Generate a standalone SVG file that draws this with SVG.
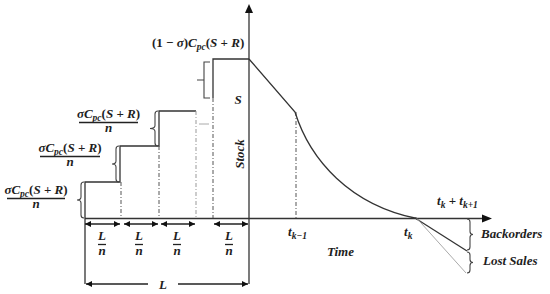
<svg xmlns="http://www.w3.org/2000/svg" width="550" height="294" viewBox="0 0 550 294">
<defs>
<style>
.t{font-family:"Liberation Serif","DejaVu Serif",serif;font-weight:bold;fill:#1e1e1e;font-size:13px}
.i{font-style:italic}
.sb{font-size:9.5px;font-style:italic}
.ln{fill:none;stroke:#333;stroke-width:1.3}
.dd{fill:none;stroke:#555;stroke-width:1;stroke-dasharray:4 2 1 2}
.gd{fill:none;stroke:#999;stroke-width:1;stroke-dasharray:4 2 1 2}
.br{fill:none;stroke:#444;stroke-width:1.1}
.fl{stroke:#222;stroke-width:1.3}
.dim{fill:none;stroke:#222;stroke-width:1.3;marker-start:url(#ah);marker-end:url(#ah)}
</style>
<marker id="ah" viewBox="0 0 10 10" refX="10" refY="5" markerWidth="6" markerHeight="6" markerUnits="userSpaceOnUse" orient="auto-start-reverse">
<path d="M0,0 L10,5 L0,10 Z" fill="#111"/>
</marker>
</defs>
<rect width="550" height="294" fill="#fff"/>

<g id="axes">
<line class="ln" x1="249" y1="12" x2="249" y2="284"/>
<polygon points="249,4 245,13 253,13" fill="#111"/>
<line class="ln" x1="85" y1="218.5" x2="484" y2="218.5"/>
<polygon points="492,218.5 482,214.5 482,222.5" fill="#111"/>
</g>

<g id="connectors">
<path class="ln" d="M85,284 V182 H120 V146 H159 V111 H196"/>
<path class="ln" d="M213,98 V59 H249"/>
<path class="dd" d="M121,182 V218 M159,146 V218 M213,98 V218 M296,112 V218"/>
<path class="gd" d="M196,111 V218"/>
<line x1="199" y1="124" x2="209" y2="124" stroke="#aaa" stroke-width="1"/>
<path class="ln" d="M249,59 L295,112 C310,160 350,205 417,218.5"/>
<line x1="415" y1="218" x2="467" y2="251" stroke="#333" stroke-width="1.3"/>
<line x1="417" y1="218.5" x2="466" y2="273" stroke="#aaa" stroke-width="1"/>
<path class="br" d="M84,182 Q81,182 81,185 V197 Q81,200 77,200 Q81,200 81,203 V215 Q81,218 84,218"/>
<path class="br" d="M119,146 Q116,146 116,149 V161 Q116,164 112,164 Q116,164 116,167 V179 Q116,182 119,182"/>
<path class="br" d="M158,111 Q155,111 155,114 V125.5 Q155,128.5 150,128.5 Q155,128.5 155,131.5 V143 Q155,146 158,146"/>
<path class="br" d="M210,62 H204 V98 H210 M204,80 H197"/>
<path class="br" d="M467,219 Q470,219 470,222 V231.5 Q470,234.5 473,234.5 Q470,234.5 470,237.5 V247 Q470,250 467,250"/>
<path class="br" d="M467,252 Q470,252 470,255 V259.5 Q470,262.5 473,262.5 Q470,262.5 470,265.5 V270 Q470,273 467,273"/>
<line class="dim" x1="85" y1="224" x2="120" y2="224"/>
<line class="dim" x1="124" y1="224" x2="158" y2="224"/>
<line class="dim" x1="161" y1="224" x2="195" y2="224"/>
<line class="dim" x1="214" y1="224" x2="248" y2="224"/>
<line class="dim" x1="86" y1="284" x2="148" y2="284" style="marker-end:none"/>
<line class="dim" x1="178" y1="284" x2="248" y2="284" style="marker-start:none"/>
</g>

<g id="label-top">
<text class="t" x="152" y="47">(1 − <tspan class="i">σ</tspan>)<tspan class="i">C</tspan><tspan class="sb" dy="3">pc</tspan><tspan dy="-3">(</tspan><tspan class="i">S</tspan> + <tspan class="i">R</tspan>)</text>
</g>

<g id="frac3">
<text class="t" x="108.5" y="118" text-anchor="middle"><tspan class="i">σC</tspan><tspan class="sb" dy="3">pc</tspan><tspan dy="-3">(</tspan><tspan class="i">S</tspan> + <tspan class="i">R</tspan>)</text>
<line class="fl" x1="79" y1="122.5" x2="138" y2="122.5"/>
<text class="t i" x="108.5" y="132" text-anchor="middle">n</text>
</g>
<g id="frac2">
<text class="t" x="70" y="152" text-anchor="middle"><tspan class="i">σC</tspan><tspan class="sb" dy="3">pc</tspan><tspan dy="-3">(</tspan><tspan class="i">S</tspan> + <tspan class="i">R</tspan>)</text>
<line class="fl" x1="40" y1="156.5" x2="100" y2="156.5"/>
<text class="t i" x="70" y="166" text-anchor="middle">n</text>
</g>
<g id="frac1">
<text class="t" x="36" y="194" text-anchor="middle"><tspan class="i">σC</tspan><tspan class="sb" dy="3">pc</tspan><tspan dy="-3">(</tspan><tspan class="i">S</tspan> + <tspan class="i">R</tspan>)</text>
<line class="fl" x1="7" y1="198.5" x2="65" y2="198.5"/>
<text class="t i" x="36" y="208" text-anchor="middle">n</text>
</g>

<g id="ln-labels">
<text class="t i" x="102" y="240" text-anchor="middle">L</text>
<line class="fl" x1="98" y1="244.5" x2="106" y2="244.5"/>
<text class="t i" x="102" y="255" text-anchor="middle">n</text>
<text class="t i" x="139" y="240" text-anchor="middle">L</text>
<line class="fl" x1="135" y1="244.5" x2="143" y2="244.5"/>
<text class="t i" x="139" y="255" text-anchor="middle">n</text>
<text class="t i" x="177" y="240" text-anchor="middle">L</text>
<line class="fl" x1="173" y1="244.5" x2="181" y2="244.5"/>
<text class="t i" x="177" y="255" text-anchor="middle">n</text>
<text class="t i" x="229" y="240" text-anchor="middle">L</text>
<line class="fl" x1="225" y1="244.5" x2="233" y2="244.5"/>
<text class="t i" x="229" y="255" text-anchor="middle">n</text>
<text class="t i" x="163" y="289" text-anchor="middle" font-size="15">L</text>
</g>

<g id="axis-labels">
<text class="t i" x="238" y="104" text-anchor="middle">S</text>
<text class="t i" transform="translate(244,154) rotate(-90)" text-anchor="middle">Stock</text>
<text class="t i" x="288" y="236">t<tspan class="sb" dy="3">k−1</tspan></text>
<text class="t i" x="327" y="256">Time</text>
<text class="t i" x="404" y="236">t<tspan class="sb" dy="3">k</tspan></text>
<text class="t" x="437" y="205"><tspan class="i">t</tspan><tspan class="sb" dy="3">k</tspan><tspan dy="-3"> + </tspan><tspan class="i">t</tspan><tspan class="sb" dy="3">k+1</tspan></text>
<text class="t i" x="481" y="238">Backorders</text>
<text class="t i" x="483" y="265">Lost Sales</text>
</g>
</svg>
